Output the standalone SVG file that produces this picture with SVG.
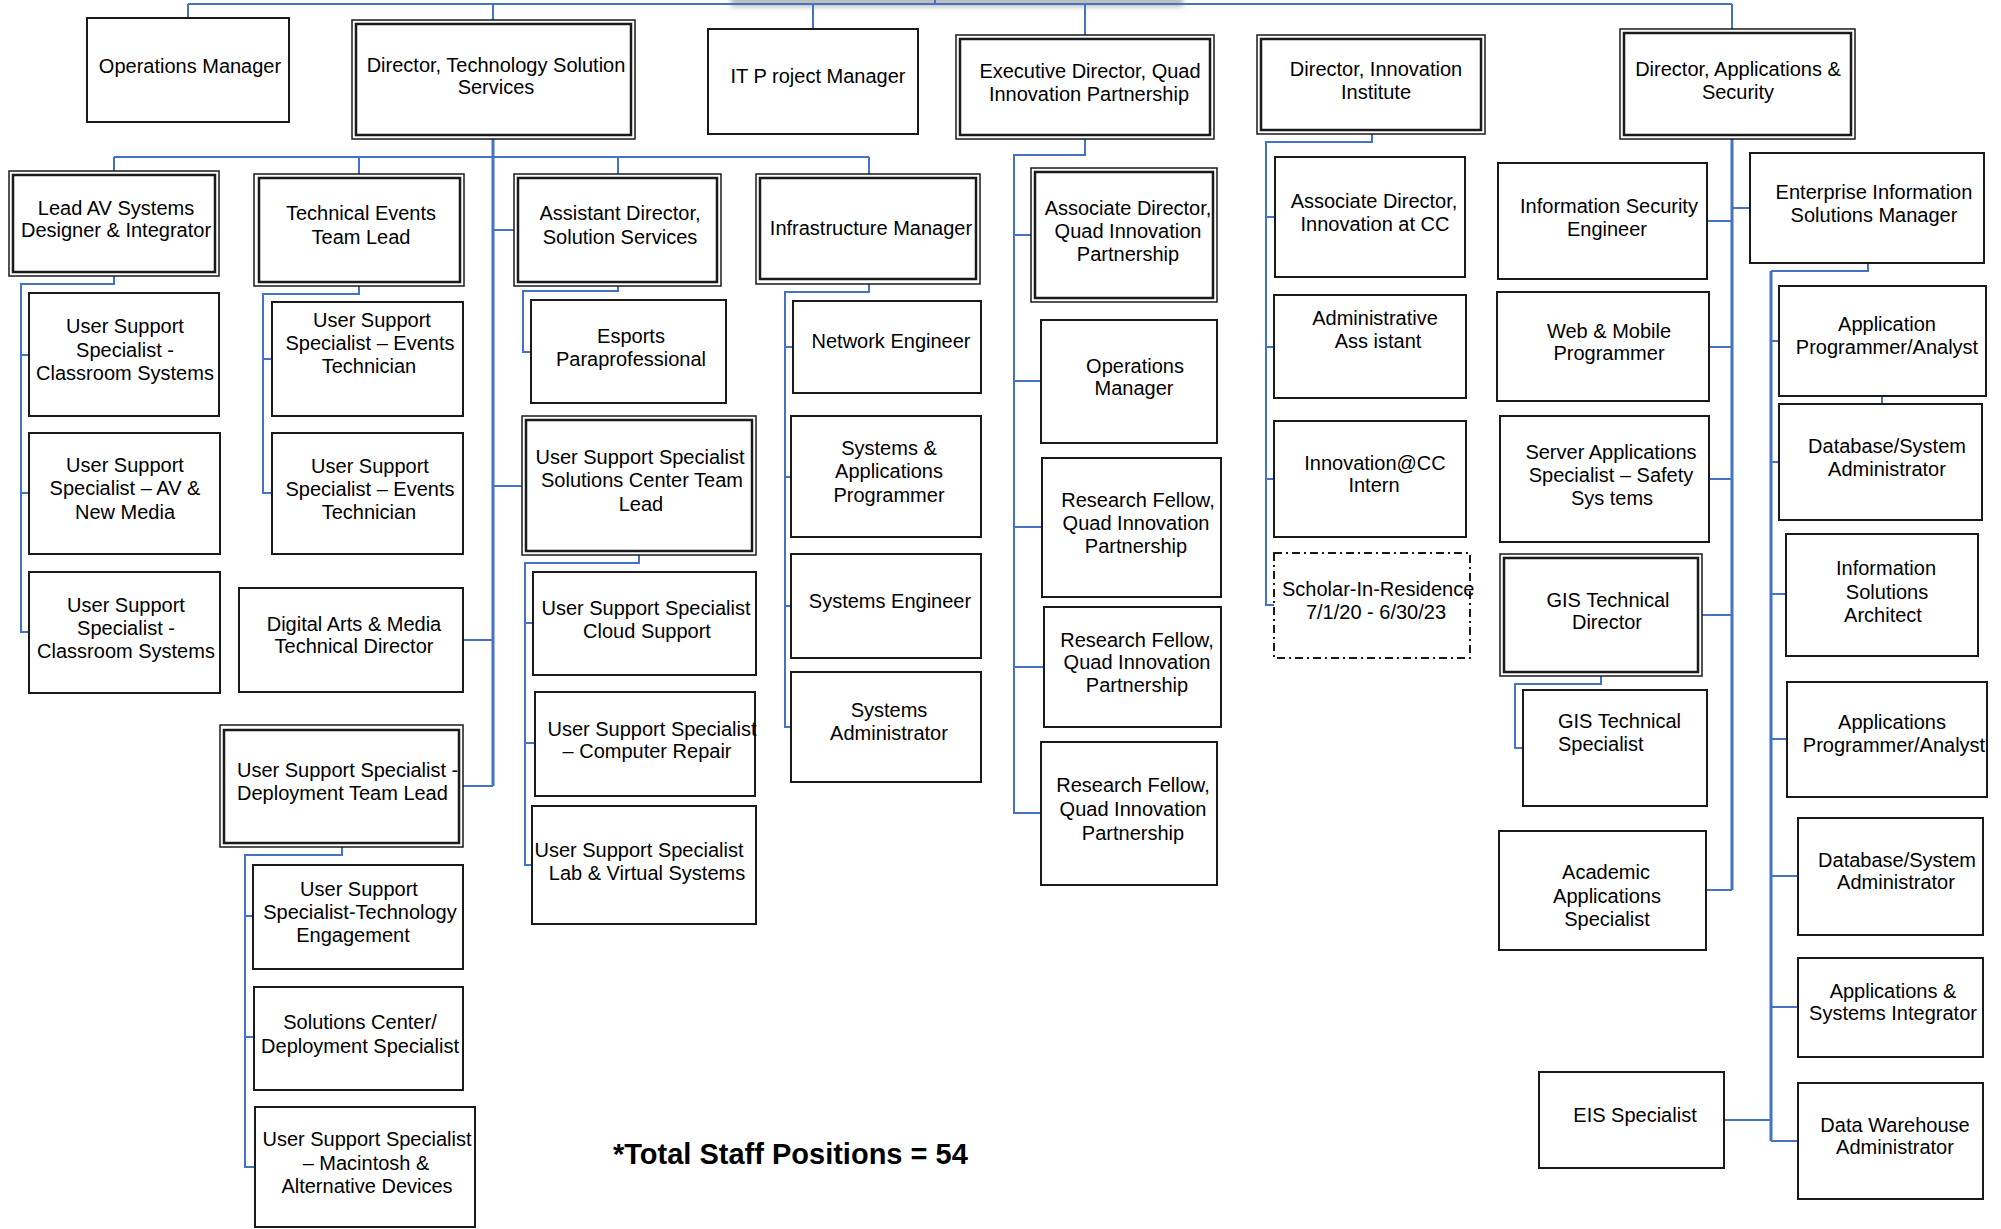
<svg xmlns="http://www.w3.org/2000/svg" width="2001" height="1229" viewBox="0 0 2001 1229">
<defs>
<filter id="sh" x="-10%" y="-200%" width="120%" height="500%"><feGaussianBlur stdDeviation="2.5"/></filter>
<style>
.b{fill:#fff;stroke:#1a1a1a;stroke-width:2}
.bo{fill:#fff;stroke:#1a1a1a;stroke-width:1.5}
.bi{fill:none;stroke:#1a1a1a;stroke-width:2.5}
.bd{fill:#fff;stroke:#1a1a1a;stroke-width:2;stroke-dasharray:8 4 2 4}
.c{fill:none;stroke:#4472C4;stroke-width:2}
.ct{fill:none;stroke:#4472C4;stroke-width:3}
text{font-family:"Liberation Sans",Arial,sans-serif;font-size:20px;fill:#000;text-anchor:middle}
.l{text-anchor:start}
.tot{font-size:29px;font-weight:bold;text-anchor:start}
</style>
</defs>
<rect width="2001" height="1229" fill="#fff"/>
<rect x="731" y="-6" width="452" height="13" fill="#bdbdbd" filter="url(#sh)"/>

<g id="connectors">
<path class="c" d="M188,4 H1732 M188,4 V18 M493,4 V20 M813,4 V29 M1085,4 V35 M1732,4 V29 M935,0 V4"/>
<path class="ct" d="M493,139 V786"/>
<path class="c" d="M114,157 H869 M114,157 V171 M359,157 V174 M618,157 V174 M869,157 V174"/>
<path class="c" d="M493,230 H514 M493,486 H522 M463,640 H493 M463,786 H493"/>
<path class="c" d="M114,276 V284 H21 V632 H29 M21,355 H29 M21,493 H29"/>
<path class="c" d="M359,286 V294 H263 V493 H272 M263,359 H272"/>
<path class="c" d="M618,286 V291 H523 V352 H531"/>
<path class="c" d="M639,555 V563 H525 V865 H532 M525,623 H533 M525,743 H535"/>
<path class="c" d="M869,284 V292 H785 V727 H791 M785,347 H793 M785,477 H791 M785,606 H791"/>
<path class="c" d="M1085,139 V155 H1014 V813 H1041 M1014,235 H1031 M1014,381 H1041 M1014,527 H1042 M1014,667 H1044"/>
<path class="c" d="M1372,134 V142 H1266 V605 H1274 M1266,217 H1275 M1266,347 H1274 M1266,479 H1274"/>
<path class="ct" d="M1732,139 V890"/>
<path class="c" d="M1732,890 H1706 M1707,221 H1732 M1732,208 H1750 M1709,347 H1732 M1709,479 H1732 M1702,615 H1732"/>
<path class="c" d="M1601,676 V684 H1515 V748 H1523"/>
<path class="c" d="M1868,263 V271 H1771"/>
<path class="ct" d="M1771,271 V1141"/>
<path class="c" d="M1771,1141 H1798 M1771,341 H1779 M1771,462 H1779 M1771,594 H1786 M1771,739 H1787 M1771,876 H1798 M1771,1007 H1798 M1724,1120 H1771 M1882,396 V404"/>
<path class="c" d="M342,847 V855 H245 V1167 H255 M245,916 H253 M245,1037 H254"/>
</g>

<g id="n_ops1"><rect class="b" x="87" y="18" width="202" height="104"/><text x="190" y="73">Operations Manager</text></g>
<g id="n_dir_tss"><rect class="bo" x="352" y="20" width="283" height="119"/><rect class="bi" x="356" y="24" width="275" height="111"/><text><tspan x="496" y="72">Director, Technology Solution</tspan><tspan x="496" y="94">Services</tspan></text></g>
<g id="n_itpm"><rect class="b" x="708" y="29" width="210" height="105"/><text x="818" y="83">IT P roject Manager</text></g>
<g id="n_exec"><rect class="bo" x="956" y="35" width="258" height="104"/><rect class="bi" x="960" y="39" width="250" height="96"/><text><tspan x="1090" y="78">Executive Director, Quad</tspan><tspan x="1089" y="101">Innovation Partnership</tspan></text></g>
<g id="n_dir_inn"><rect class="bo" x="1257" y="35" width="228" height="99"/><rect class="bi" x="1261" y="39" width="220" height="91"/><text><tspan x="1376" y="76">Director, Innovation</tspan><tspan x="1376" y="99">Institute</tspan></text></g>
<g id="n_dir_apps"><rect class="bo" x="1620" y="29" width="235" height="110"/><rect class="bi" x="1624" y="33" width="227" height="102"/><text><tspan x="1738" y="76">Director, Applications &amp;</tspan><tspan x="1738" y="99">Security</tspan></text></g>

<g id="n_leadav"><rect class="bo" x="9" y="171" width="210" height="105"/><rect class="bi" x="13" y="175" width="202" height="97"/><text><tspan x="116" y="215">Lead AV Systems</tspan><tspan x="116" y="237">Designer &amp; Integrator</tspan></text></g>
<g id="n_uss_cls1"><rect class="b" x="29" y="293" width="190" height="123"/><text><tspan x="125" y="333">User Support</tspan><tspan x="125" y="357">Specialist -</tspan><tspan x="125" y="380">Classroom Systems</tspan></text></g>
<g id="n_uss_av"><rect class="b" x="29" y="433" width="191" height="121"/><text><tspan x="125" y="472">User Support</tspan><tspan x="125" y="495">Specialist – AV &amp;</tspan><tspan x="125" y="519">New Media</tspan></text></g>
<g id="n_uss_cls2"><rect class="b" x="29" y="572" width="191" height="121"/><text><tspan x="126" y="612">User Support</tspan><tspan x="126" y="635">Specialist -</tspan><tspan x="126" y="658">Classroom Systems</tspan></text></g>

<g id="n_tech_ev"><rect class="bo" x="254" y="174" width="210" height="112"/><rect class="bi" x="259" y="178" width="201" height="104"/><text><tspan x="361" y="220">Technical Events</tspan><tspan x="361" y="244">Team Lead</tspan></text></g>
<g id="n_uss_ev1"><rect class="b" x="272" y="302" width="191" height="114"/><text><tspan x="372" y="327">User Support</tspan><tspan x="370" y="350">Specialist – Events</tspan><tspan x="369" y="373">Technician</tspan></text></g>
<g id="n_uss_ev2"><rect class="b" x="272" y="433" width="191" height="121"/><text><tspan x="370" y="473">User Support</tspan><tspan x="370" y="496">Specialist – Events</tspan><tspan x="369" y="519">Technician</tspan></text></g>
<g id="n_digital"><rect class="b" x="239" y="588" width="224" height="104"/><text><tspan x="354" y="631">Digital Arts &amp; Media</tspan><tspan x="354" y="653">Technical Director</tspan></text></g>

<g id="n_asst_dir"><rect class="bo" x="514" y="174" width="207" height="112"/><rect class="bi" x="518" y="178" width="199" height="104"/><text><tspan x="620" y="220">Assistant Director,</tspan><tspan x="620" y="244">Solution Services</tspan></text></g>
<g id="n_esports"><rect class="b" x="531" y="300" width="195" height="103"/><text><tspan x="631" y="343">Esports</tspan><tspan x="631" y="366">Paraprofessional</tspan></text></g>
<g id="n_uss_sc"><rect class="bo" x="522" y="416" width="234" height="139"/><rect class="bi" x="526" y="420" width="226" height="131"/><text><tspan x="640" y="464">User Support Specialist</tspan><tspan x="642" y="487">Solutions Center Team</tspan><tspan x="641" y="511">Lead</tspan></text></g>
<g id="n_uss_cloud"><rect class="b" x="533" y="572" width="223" height="103"/><text><tspan x="646" y="615">User Support Specialist</tspan><tspan x="647" y="638">Cloud Support</tspan></text></g>
<g id="n_uss_repair"><rect class="b" x="535" y="692" width="220" height="104"/><text><tspan x="652" y="736">User Support Specialist</tspan><tspan x="647" y="758">– Computer Repair</tspan></text></g>
<g id="n_uss_lab"><rect class="b" x="532" y="806" width="224" height="118"/><text><tspan x="639" y="857">User Support Specialist</tspan><tspan x="647" y="880">Lab &amp; Virtual Systems</tspan></text></g>

<g id="n_infra"><rect class="bo" x="756" y="174" width="224" height="110"/><rect class="bi" x="760" y="178" width="216" height="101"/><text x="871" y="235">Infrastructure Manager</text></g>
<g id="n_net"><rect class="b" x="793" y="301" width="188" height="92"/><text x="891" y="348">Network Engineer</text></g>
<g id="n_sysapp"><rect class="b" x="791" y="416" width="190" height="121"/><text><tspan x="889" y="455">Systems &amp;</tspan><tspan x="889" y="478">Applications</tspan><tspan x="889" y="502">Programmer</tspan></text></g>
<g id="n_syseng"><rect class="b" x="791" y="554" width="190" height="104"/><text x="890" y="608">Systems Engineer</text></g>
<g id="n_sysadm"><rect class="b" x="791" y="672" width="190" height="110"/><text><tspan x="889" y="717">Systems</tspan><tspan x="889" y="740">Administrator</tspan></text></g>

<g id="n_assoc_quad"><rect class="bo" x="1031" y="168" width="186" height="134"/><rect class="bi" x="1035" y="172" width="178" height="126"/><text><tspan x="1128" y="215">Associate Director,</tspan><tspan x="1128" y="238">Quad Innovation</tspan><tspan x="1128" y="261">Partnership</tspan></text></g>
<g id="n_ops2"><rect class="b" x="1041" y="320" width="176" height="123"/><text><tspan x="1135" y="373">Operations</tspan><tspan x="1134" y="395">Manager</tspan></text></g>
<g id="n_rf1"><rect class="b" x="1042" y="458" width="179" height="139"/><text><tspan x="1138" y="507">Research Fellow,</tspan><tspan x="1136" y="530">Quad Innovation</tspan><tspan x="1136" y="553">Partnership</tspan></text></g>
<g id="n_rf2"><rect class="b" x="1044" y="607" width="177" height="120"/><text><tspan x="1137" y="647">Research Fellow,</tspan><tspan x="1137" y="669">Quad Innovation</tspan><tspan x="1137" y="692">Partnership</tspan></text></g>
<g id="n_rf3"><rect class="b" x="1041" y="742" width="176" height="143"/><text><tspan x="1133" y="792">Research Fellow,</tspan><tspan x="1133" y="816">Quad Innovation</tspan><tspan x="1133" y="840">Partnership</tspan></text></g>

<g id="n_assoc_cc"><rect class="b" x="1275" y="157" width="190" height="120"/><text><tspan x="1374" y="208">Associate Director,</tspan><tspan x="1375" y="231">Innovation at CC</tspan></text></g>
<g id="n_admin"><rect class="b" x="1274" y="295" width="192" height="103"/><text><tspan x="1375" y="325">Administrative</tspan><tspan x="1378" y="348">Ass istant</tspan></text></g>
<g id="n_intern"><rect class="b" x="1274" y="421" width="192" height="116"/><text><tspan x="1375" y="470">Innovation@CC</tspan><tspan x="1374" y="492">Intern</tspan></text></g>
<g id="n_scholar"><rect class="bd" x="1274" y="553" width="196" height="105"/><text><tspan class="l" x="1282" y="596">Scholar-In-Residence</tspan><tspan x="1376" y="619">7/1/20 - 6/30/23</tspan></text></g>

<g id="n_infosec"><rect class="b" x="1498" y="163" width="209" height="116"/><text><tspan x="1609" y="213">Information Security</tspan><tspan x="1607" y="236">Engineer</tspan></text></g>
<g id="n_web"><rect class="b" x="1497" y="292" width="212" height="109"/><text><tspan x="1609" y="338">Web &amp; Mobile</tspan><tspan x="1609" y="360">Programmer</tspan></text></g>
<g id="n_server"><rect class="b" x="1500" y="416" width="209" height="126"/><text><tspan x="1611" y="459">Server Applications</tspan><tspan x="1611" y="482">Specialist – Safety</tspan><tspan x="1612" y="505">Sys tems</tspan></text></g>
<g id="n_gis_dir"><rect class="bo" x="1500" y="554" width="202" height="122"/><rect class="bi" x="1504" y="558" width="194" height="114"/><text><tspan x="1608" y="607">GIS Technical</tspan><tspan x="1607" y="629">Director</tspan></text></g>
<g id="n_gis_spec"><rect class="b" x="1523" y="690" width="184" height="116"/><text class="l"><tspan x="1558" y="728">GIS Technical</tspan><tspan x="1558" y="751">Specialist</tspan></text></g>
<g id="n_academic"><rect class="b" x="1499" y="831" width="207" height="119"/><text><tspan x="1606" y="879">Academic</tspan><tspan x="1607" y="903">Applications</tspan><tspan x="1607" y="926">Specialist</tspan></text></g>
<g id="n_eis"><rect class="b" x="1539" y="1072" width="185" height="96"/><text x="1635" y="1122">EIS Specialist</text></g>

<g id="n_eism"><rect class="b" x="1750" y="153" width="234" height="110"/><text><tspan x="1874" y="199">Enterprise Information</tspan><tspan x="1874" y="222">Solutions Manager</tspan></text></g>
<g id="n_apa1"><rect class="b" x="1779" y="286" width="207" height="110"/><text><tspan x="1887" y="331">Application</tspan><tspan x="1887" y="354">Programmer/Analyst</tspan></text></g>
<g id="n_dba1"><rect class="b" x="1779" y="404" width="203" height="116"/><text><tspan x="1887" y="453">Database/System</tspan><tspan x="1887" y="476">Administrator</tspan></text></g>
<g id="n_isa"><rect class="b" x="1786" y="534" width="192" height="122"/><text><tspan x="1886" y="575">Information</tspan><tspan x="1887" y="599">Solutions</tspan><tspan x="1883" y="622">Architect</tspan></text></g>
<g id="n_apa2"><rect class="b" x="1787" y="682" width="200" height="115"/><text><tspan x="1892" y="729">Applications</tspan><tspan x="1894" y="752">Programmer/Analyst</tspan></text></g>
<g id="n_dba2"><rect class="b" x="1798" y="818" width="185" height="117"/><text><tspan x="1897" y="867">Database/System</tspan><tspan x="1896" y="889">Administrator</tspan></text></g>
<g id="n_asi"><rect class="b" x="1798" y="958" width="185" height="99"/><text><tspan x="1893" y="998">Applications &amp;</tspan><tspan x="1893" y="1020">Systems Integrator</tspan></text></g>
<g id="n_dwa"><rect class="b" x="1798" y="1083" width="185" height="116"/><text><tspan x="1895" y="1132">Data Warehouse</tspan><tspan x="1895" y="1154">Administrator</tspan></text></g>

<g id="n_deploy"><rect class="bo" x="220" y="725" width="243" height="122"/><rect class="bi" x="224" y="730" width="235" height="113"/><text class="l"><tspan x="237" y="777">User Support Specialist -</tspan><tspan x="237" y="800">Deployment Team Lead</tspan></text></g>
<g id="n_tech_eng"><rect class="b" x="253" y="865" width="210" height="104"/><text><tspan x="359" y="896">User Support</tspan><tspan x="360" y="919">Specialist-Technology</tspan><tspan x="353" y="942">Engagement</tspan></text></g>
<g id="n_sc_deploy"><rect class="b" x="254" y="987" width="209" height="103"/><text><tspan x="360" y="1029">Solutions Center/</tspan><tspan x="360" y="1053">Deployment Specialist</tspan></text></g>
<g id="n_mac"><rect class="b" x="255" y="1107" width="220" height="120"/><text><tspan x="367" y="1146">User Support Specialist</tspan><tspan x="366" y="1170">– Macintosh &amp;</tspan><tspan x="367" y="1193">Alternative Devices</tspan></text></g>

<text class="tot" x="613" y="1164">*Total Staff Positions = 54</text>
</svg>
